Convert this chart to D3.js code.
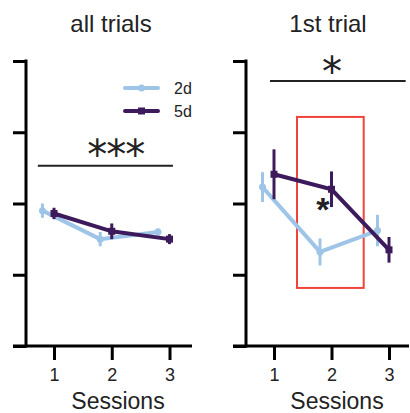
<!DOCTYPE html>
<html><head><meta charset="utf-8">
<script src="https://cdn.jsdelivr.net/npm/d3@7"></script>
<style>body{margin:0;background:#fff}svg{display:block}text{font-family:"Liberation Sans",Arial,sans-serif;fill:#222}.sig{font-family:"DejaVu Sans",sans-serif}</style>
</head><body><svg id="c" width="410" height="413"></svg>
<script>
const sessions = [1, 2, 3];
const yTicks = [0, 1, 2, 3, 4];
const seriesNames = ["2d", "5d"];
const allTrials2d = [1.90, 1.50, 1.60];
const allTrials2dErr = [0.10, 0.10, 0.05];
const allTrials5d = [1.86, 1.61, 1.50];
const allTrials5dErr = [0.08, 0.11, 0.07];
const firstTrial2d = [2.23, 1.32, 1.62];
const firstTrial2dErr = [0.21, 0.19, 0.22];
const firstTrial5d = [2.41, 2.20, 1.35];
const firstTrial5dErr = [0.35, 0.25, 0.18];
const titles = ["all trials", "1st trial"];
const xLabel = "Sessions";
const sigLabels = ["***", "*"];

const colors = {"2d": "#9ec4e8", "5d": "#3d1a5b"};
const svg = d3.select("#c");
const y = d3.scaleLinear().domain([0, 4]).range([346, 61]);

const panels = [
  {title: titles[0], axisX: 26, range: [54, 169.5], axisEnd: 192,
   data: {"2d": [allTrials2d, allTrials2dErr], "5d": [allTrials5d, allTrials5dErr]},
   sig: {x0: 0.72, x1: 3.06, y: 2.53, label: sigLabels[0], lx: 2.07, ly: 2.48, size: 40},
   legend: true, titleX: 111, labelX: 118},
  {title: titles[1], axisX: 246, range: [274, 389], axisEnd: 409,
   data: {"2d": [firstTrial2d, firstTrial2dErr], "5d": [firstTrial5d, firstTrial5dErr]},
   sig: {x0: 0.93, x1: 3.29, y: 3.72, label: sigLabels[1], lx: 2.0, ly: 3.65, size: 40},
   box: {x0: 1.4, x1: 2.56, y0: 3.215, y1: 0.815},
   star: {x: 1.85, y: 1.75},
   legend: false, titleX: 328, labelX: 337}
];
const offsets = {"2d": -0.2, "5d": 0};

panels.forEach(p => {
  const x = d3.scaleLinear().domain([1, 3]).range(p.range);
  const g = svg.append("g");
  g.append("text").attr("x", p.titleX).attr("y", 32).attr("text-anchor", "middle")
    .style("font-size", "24px").text(p.title);
  const ya = g.append("g").attr("transform", `translate(${p.axisX},0)`)
    .call(d3.axisLeft(y).tickValues(yTicks).tickSize(13).tickFormat(""));
  ya.select(".domain").remove();
  ya.selectAll("line").attr("stroke", "#000").attr("stroke-width", 3);
  g.append("line").attr("x1", p.axisX).attr("x2", p.axisX).attr("y1", y(4) - 1.5).attr("y2", y(0) + 1.5)
    .attr("stroke", "#000").attr("stroke-width", 3);
  const xa = g.append("g").attr("transform", `translate(0,${y(0)})`)
    .call(d3.axisBottom(x).tickValues(sessions).tickSize(14).tickPadding(8).tickFormat(d3.format("d")));
  xa.select(".domain").remove();
  xa.selectAll("line").attr("stroke", "#000").attr("stroke-width", 3);
  xa.selectAll("text").style("font-size", "18px").attr("fill", "#222");
  g.append("line").attr("x1", p.axisX - 13).attr("x2", p.axisEnd).attr("y1", y(0)).attr("y2", y(0))
    .attr("stroke", "#000").attr("stroke-width", 3);
  g.append("text").attr("x", p.labelX).attr("y", 409).attr("text-anchor", "middle")
    .style("font-size", "23px").text(xLabel);
  g.append("line").attr("x1", x(p.sig.x0)).attr("x2", x(p.sig.x1)).attr("y1", y(p.sig.y)).attr("y2", y(p.sig.y))
    .attr("stroke", "#222").attr("stroke-width", 2);
  g.append("text").attr("class", "sig").attr("x", x(p.sig.lx)).attr("y", y(p.sig.ly)).attr("text-anchor", "middle")
    .style("font-size", p.sig.size + "px").style("letter-spacing", "-1px").text(p.sig.label);
  if (p.box) {
    g.append("rect").attr("x", x(p.box.x0)).attr("y", y(p.box.y0))
      .attr("width", x(p.box.x1) - x(p.box.x0)).attr("height", y(p.box.y1) - y(p.box.y0))
      .attr("fill", "none").attr("stroke", "#f0443a").attr("stroke-width", 2);
  }
  seriesNames.forEach(name => {
    const [vals, errs] = p.data[name];
    const pts = sessions.map((s, i) => ({x: x(s + offsets[name]), v: vals[i], e: errs[i]}));
    const c = colors[name];
    g.append("path").datum(pts)
      .attr("d", d3.line().x(d => d.x).y(d => y(d.v)))
      .attr("fill", "none").attr("stroke", c).attr("stroke-width", 4);
    g.selectAll(null).data(pts).enter().append("line")
      .attr("x1", d => d.x).attr("x2", d => d.x)
      .attr("y1", d => y(d.v + d.e)).attr("y2", d => y(d.v - d.e))
      .attr("stroke", c).attr("stroke-width", 3);
    if (name === "2d") {
      g.selectAll(null).data(pts).enter().append("circle")
        .attr("cx", d => d.x).attr("cy", d => y(d.v)).attr("r", 3.5).attr("fill", c);
    } else {
      g.selectAll(null).data(pts).enter().append("rect")
        .attr("x", d => d.x - 3.5).attr("y", d => y(d.v) - 3.5).attr("width", 7).attr("height", 7).attr("fill", c);
    }
  });
  if (p.star) {
    g.append("text").attr("x", x(p.star.x)).attr("y", y(p.star.y)).attr("text-anchor", "middle")
      .style("font-size", "34px").style("font-weight", "bold").text("*");
  }
  if (p.legend) {
    seriesNames.forEach((name, i) => {
      const ly = 88 + i * 23;
      const c = colors[name];
      g.append("line").attr("x1", 125).attr("x2", 158).attr("y1", ly).attr("y2", ly)
        .attr("stroke", c).attr("stroke-width", 4).attr("stroke-linecap", "round");
      if (name === "2d") g.append("circle").attr("cx", 141.5).attr("cy", ly).attr("r", 3.5).attr("fill", c);
      else g.append("rect").attr("x", 138).attr("y", ly - 3.5).attr("width", 7).attr("height", 7).attr("fill", c);
      g.append("text").attr("x", 174).attr("y", ly + 5.5).style("font-size", "16px").text(name);
    });
  }
});
</script></body></html>
